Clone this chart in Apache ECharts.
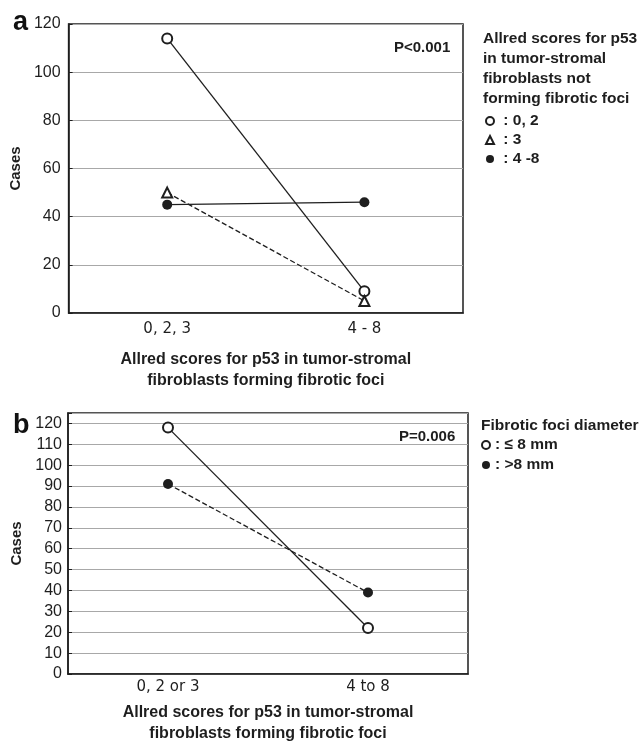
<!DOCTYPE html>
<html>
<head>
<meta charset="utf-8">
<script src="https://cdn.jsdelivr.net/npm/echarts@6/dist/echarts.min.js"></script>
<style>
  html, body { margin: 0; padding: 0; background: #fff; }
  #chart { width: 642px; height: 745px; }
</style>
</head>
<body>
<div id="chart"></div>
<script>
// panel a
var catsA = ['0, 2, 3', '4 - 8'];
var a02 = [114, 9];
var a3 = [50, 5];
var a48 = [45, 46];
// panel b
var catsB = ['0, 2 or 3', '4 to 8'];
var bSmall = [118, 22];
var bLarge = [91, 39];

var FONT = '"Liberation Sans", Arial, sans-serif';
var INK = '#1e1e1e';

function yAx(gi, max, step, margin, gap) {
	return {
		type: 'value', gridIndex: gi, min: 0, max: max, interval: step,
		name: 'Cases', nameLocation: 'middle', nameGap: gap,
		nameTextStyle: { fontFamily: FONT, fontWeight: 'bold', fontSize: 15, color: INK },
		axisLine: { show: true, lineStyle: { color: INK, width: 1.5 } },
		axisTick: { show: true, inside: true, length: 4, lineStyle: { color: INK } },
		axisLabel: {
			fontFamily: FONT, fontSize: 16, color: INK, margin: margin,
			formatter: function(v) { return v % step == 0 ? v : ''; }
		},
		splitLine: { lineStyle: { color: '#a8a8a8', width: 1 } }
	};
}

function xAx(gi, cats, margin, gap) {
	return {
		type: 'category', gridIndex: gi, data: cats, boundaryGap: true,
		name: 'Allred scores for p53 in tumor-stromal\nfibroblasts forming fibrotic foci',
		nameLocation: 'middle', nameGap: gap,
		nameTextStyle: { fontFamily: FONT, fontWeight: 'bold', fontSize: 16, color: INK, lineHeight: 21, verticalAlign: 'top' },
		axisLine: { lineStyle: { color: INK, width: 1.5 } },
		axisTick: { alignWithLabel: true, length: 4, lineStyle: { color: INK } },
		axisLabel: { fontFamily: '"DejaVu Sans", sans-serif', fontSize: 15, color: INK, margin: margin }
	};
}

function line(name, data, xi, sym, dashed) {
	return {
		name: name, type: 'line', xAxisIndex: xi, yAxisIndex: xi, data: data,
		symbol: sym, symbolSize: 10, showAllSymbol: true,
		lineStyle: { color: INK, width: 1.3, type: dashed ? 'dashed' : 'solid' },
		itemStyle: { color: INK, borderWidth: 1.6 },
		emphasis: { disabled: true },
		z: 3
	};
}

var legText = { fontFamily: FONT, fontWeight: 'bold', fontSize: 15.5, color: INK };

var chart = echarts.init(document.getElementById('chart'));
chart.setOption({
	animation: false,
	backgroundColor: '#fff',
	title: [
		{ text: 'a', left: 8, top: 4, textStyle: { fontFamily: FONT, fontWeight: 'bold', fontSize: 27, color: '#111' } },
		{ text: 'b', left: 8, top: 407, textStyle: { fontFamily: FONT, fontWeight: 'bold', fontSize: 27, color: '#111' } },
		{ text: 'P<0.001', left: 389, top: 35, textStyle: { fontFamily: FONT, fontWeight: 'bold', fontSize: 15, color: INK } },
		{ text: 'P=0.006', left: 394, top: 424, textStyle: { fontFamily: FONT, fontWeight: 'bold', fontSize: 15, color: INK } },
		{ text: 'Allred scores for p53\nin tumor-stromal\nfibroblasts not\nforming fibrotic foci', left: 478, top: 24,
		  textStyle: { fontFamily: FONT, fontWeight: 'bold', fontSize: 15.5, color: INK, lineHeight: 20 } },
		{ text: 'Fibrotic foci diameter', left: 476, top: 413,
		  textStyle: { fontFamily: FONT, fontWeight: 'bold', fontSize: 15.5, color: INK } }
	],
	legend: [
		{
			orient: 'vertical', left: 480, top: 108, itemGap: 3, itemWidth: 8, itemHeight: 8,
			data: [{ name: '0, 2', icon: 'emptyCircle' }, { name: '3', icon: 'emptyTriangle' }, { name: '4 -8', icon: 'circle' }],
			formatter: function(n) { return ' : ' + n; },
			textStyle: legText,
			selectedMode: false
		},
		{
			orient: 'vertical', left: 476, top: 432, itemGap: 4, itemWidth: 8, itemHeight: 8,
			data: [{ name: '≤ 8 mm', icon: 'emptyCircle' }, { name: '>8 mm', icon: 'circle' }],
			formatter: function(n) { return ': ' + n; },
			textStyle: legText,
			selectedMode: false
		}
	],
	grid: [
		{ left: 65, top: 24, width: 398, height: 289, show: true, borderColor: INK, borderWidth: 1.5, backgroundColor: 'transparent' },
		{ left: 68, top: 413, width: 400, height: 267, show: true, borderColor: INK, borderWidth: 1.5, backgroundColor: 'transparent' }
	],
	xAxis: [xAx(0, catsA, 9, 36), xAx(1, catsB, 6, 28)],
	yAxis: [yAx(0, 120, 20, 8, 39), yAx(1, 125, 10, 6, 42)],
	series: [
		line('0, 2', a02, 0, 'emptyCircle', false),
		line('3', a3, 0, 'emptyTriangle', true),
		line('4 -8', a48, 0, 'circle', false),
		line('≤ 8 mm', bSmall, 1, 'emptyCircle', false),
		line('>8 mm', bLarge, 1, 'circle', true)
	]
});
</script>
</body>
</html>
